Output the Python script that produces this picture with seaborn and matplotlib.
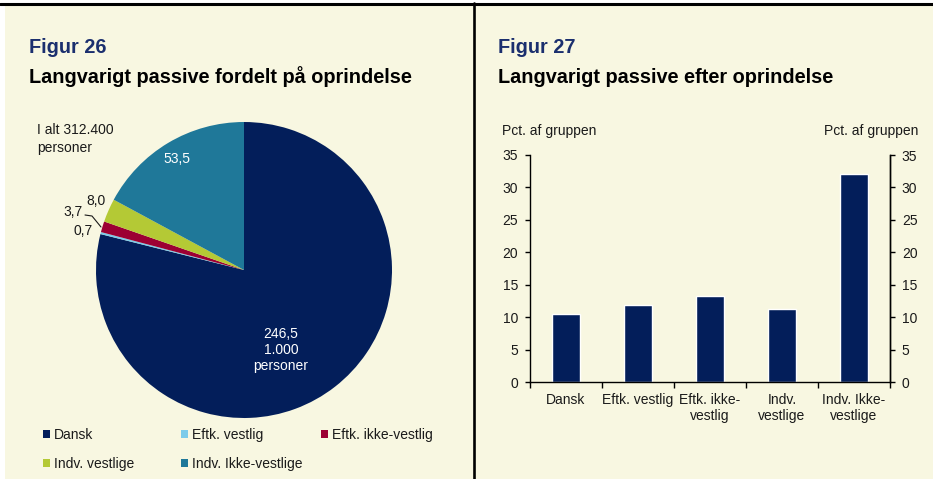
import numpy as np
import matplotlib
matplotlib.use("Agg")
import matplotlib.pyplot as plt
from matplotlib.patches import Patch, Rectangle
from matplotlib.lines import Line2D
import seaborn as sns

# data
origins = ["Dansk", "Eftk. vestlig", "Eftk. ikke-vestlig", "Indv. vestlige", "Indv. Ikke-vestlige"]
persons = [246.5, 0.7, 3.7, 8.0, 53.5]  # 1.000 personer
bar_labels = ["Dansk", "Eftk. vestlig", "Eftk. ikke-\nvestlig", "Indv.\nvestlige", "Indv. Ikke-\nvestlige"]
pct = [10.5, 11.8, 13.3, 11.3, 32.0]  # pct. af gruppen
colors = ["#031E5A", "#7CCBEA", "#9C0033", "#B4C935", "#1F7899"]

cream = "#F8F7E1"
navy = "#031E5A"
title_col = "#1B2F6E"
txt = "#1A1A1A"

sns.set_style("ticks")
plt.rcParams["font.family"] = ["Liberation Sans", "DejaVu Sans"]
plt.rcParams["font.size"] = 10

W, H = 933, 479
fig = plt.figure(figsize=(W / 100, H / 100), dpi=100, facecolor="white")


def fx(px):
    return px / W


def fy(py):
    return 1 - py / H


# cream background, frame lines
fig.patches.append(Rectangle((fx(5), 0), 1 - fx(5), fy(5), transform=fig.transFigure,
                             facecolor=cream, edgecolor="none", zorder=-10))
fig.lines.append(Line2D([0, 1], [fy(3.8), fy(3.8)], transform=fig.transFigure, color="black", lw=2.2))
fig.lines.append(Line2D([fx(474), fx(474)], [0, fy(3)], transform=fig.transFigure, color="black", lw=1.9))

# titles
fig.text(fx(29), fy(53), "Figur 26", fontsize=14.3, fontweight="bold", color=title_col, va="baseline")
fig.text(fx(29), fy(83), "Langvarigt passive fordelt på oprindelse", fontsize=14.3, fontweight="bold",
         color="black", va="baseline")
fig.text(fx(498), fy(53), "Figur 27", fontsize=14.3, fontweight="bold", color=title_col, va="baseline")
fig.text(fx(498), fy(83), "Langvarigt passive efter oprindelse", fontsize=14.3, fontweight="bold",
         color="black", va="baseline")

# ---- pie ----
cx, cy, r = 244, 270, 148
axp = fig.add_axes([fx(cx - r), fy(cy + r), 2 * r / W, 2 * r / H])
axp.pie(persons, colors=colors, startangle=90, counterclock=False, radius=1,
        wedgeprops=dict(linewidth=0))
axp.set_xlim(-1, 1)
axp.set_ylim(-1, 1)
axp.set_aspect("equal")
axp.axis("off")


def px2d(px, py):
    return (px - cx) / r, -(py - cy) / r


axp.text(*px2d(177, 159), "53,5", color="white", ha="center", va="center", fontsize=10)
axp.text(*px2d(281, 350), "246,5\n1.000\npersoner", color="white", ha="center", va="center",
         fontsize=10, linespacing=1.22)
axp.text(*px2d(96, 201), "8,0", color=txt, ha="center", va="center", fontsize=10)
axp.text(*px2d(73, 212), "3,7", color=txt, ha="center", va="center", fontsize=10)
axp.text(*px2d(83, 231), "0,7", color=txt, ha="center", va="center", fontsize=10)
lx, ly = zip(px2d(85, 215), px2d(92, 216), px2d(101, 227))
axp.plot(lx, ly, color=txt, lw=0.8, clip_on=False)
fig.text(fx(37), fy(139), "I alt 312.400\npersoner", color=txt, ha="left", va="center",
         fontsize=10, linespacing=1.3)

# legend in three columns
handles = [Patch(facecolor=c, edgecolor="none", label=o) for c, o in zip(colors, origins)]
cols = [([0, 3], 43), ([1, 4], 181), ([2], 321)]
for idx, x0 in cols:
    leg = fig.legend(handles=[handles[i] for i in idx], loc="upper left",
                     bbox_to_anchor=(fx(x0), fy(428)), bbox_transform=fig.transFigure,
                     frameon=False, borderpad=0, borderaxespad=0, handlelength=0.5,
                     handleheight=0.5, handletextpad=0.3, labelspacing=1.05, fontsize=10,
                     labelcolor=txt)

# ---- bars ----
axb = fig.add_axes([fx(530), fy(382), fx(890) - fx(530), (382 - 155) / H])
axb.set_facecolor("none")
sns.barplot(x=bar_labels, y=pct, color=navy, saturation=1, width=0.4, ax=axb)
axb.set_ylim(0, 35)
axb.set_xlim(-0.5, 4.5)
axb.set_yticks(np.arange(0, 36, 5))
axb.set_xticks(np.arange(-0.5, 5, 1))
axb.set_xticklabels([])
axb.set_xticks(range(5), labels=bar_labels, minor=True)
axb.tick_params(axis="x", which="major", length=4, width=1, direction="out", color="black")
axb.tick_params(axis="x", which="minor", length=0, pad=8, labelsize=10, labelcolor=txt)
axb.tick_params(axis="y", length=3.5, width=1, pad=5, labelsize=10, labelcolor=txt, color="black")
axb.set_xlabel("")
axb.set_ylabel("")
for s in ["left", "bottom", "right"]:
    axb.spines[s].set_visible(True)
    axb.spines[s].set_color("black")
    axb.spines[s].set_linewidth(1)
axb.spines["top"].set_visible(False)

ax2 = axb.twinx()
ax2.set_ylim(0, 35)
ax2.set_yticks(np.arange(0, 36, 5))
ax2.tick_params(axis="y", length=3.5, width=1, pad=5, labelsize=10, labelcolor=txt, color="black")
for s in ["top", "left", "bottom"]:
    ax2.spines[s].set_visible(False)
ax2.spines["right"].set_color("black")
ax2.spines["right"].set_linewidth(1)

fig.text(fx(502), fy(135), "Pct. af gruppen", color=txt, fontsize=10, ha="left", va="baseline")
fig.text(fx(918), fy(135), "Pct. af gruppen", color=txt, fontsize=10, ha="right", va="baseline")

fig.savefig("out.png", dpi=100, facecolor="white")
